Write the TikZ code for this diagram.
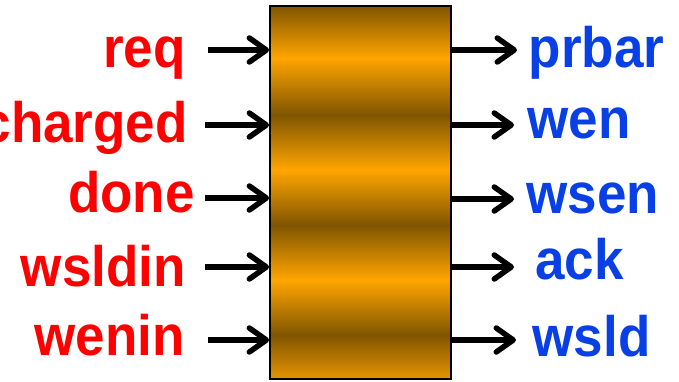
\documentclass[tikz,border=0pt]{standalone}
\usepackage{fontspec}
\setmainfont{Liberation Sans}
\newfontfamily\labelfont[FakeStretch=0.93]{Liberation Sans}
\usetikzlibrary{arrows.meta}

% brass-like banded fill, stops placed on the 25bp..75bp band that TikZ maps onto the box
\definecolor{brassLight}{RGB}{255,165,0}
\definecolor{brassDark}{RGB}{128,85,0}
\colorlet{brassLow}{brassLight!80!brassDark}
\pgfdeclareverticalshading{brass}{100bp}{%
  color(0bp)=(brassLow); color(25bp)=(brassLow);
  color(30.9bp)=(brassDark); color(38.27bp)=(brassLight);
  color(45.64bp)=(brassDark); color(53.02bp)=(brassLight);
  color(60.39bp)=(brassDark); color(68.03bp)=(brassLight);
  color(75bp)=(brassDark); color(100bp)=(brassDark)}

\definecolor{inred}{RGB}{255,0,0}
\definecolor{outblue}{RGB}{8,64,230}

\tikzset{
  block/.style={draw=black, line width=1.8pt, shading=brass, inner sep=0pt,
    minimum width=181pt, minimum height=373pt},
  sigfont/.style={inner sep=0pt,
    font=\labelfont\fontsize{57pt}{57pt}\selectfont\bfseries},
  inlabel/.style={sigfont, anchor=base east, text=inred},
  outlabel/.style={sigfont, anchor=base west, text=outblue},
  sig/.style={line width=5.5pt, -{Straight Barb[length=17pt,width=24pt,round]}}
}

\begin{document}
\begin{tikzpicture}[x=1pt, y=-1pt]
  \useasboundingbox (0,0) rectangle (679,381);

  \node[block] (box) at (360.5,192.5) {};

  % inputs
  \node[inlabel] (req)     at (186,67)  {req};
  \node[inlabel] (charged) at (188,142) {charged};
  \node[inlabel] (done)    at (195,212) {done};
  \node[inlabel] (wsldin)  at (186,286) {wsldin};
  \node[inlabel] (wenin)   at (185,355) {wenin};

  \coordinate (iReq)     at (208,50);
  \coordinate (iCharged) at (205,125);
  \coordinate (iDone)    at (205,198);
  \coordinate (iWsldin)  at (205,267);
  \coordinate (iWenin)   at (208,340);

  \foreach \c in {iReq,iCharged,iDone,iWsldin,iWenin}
    \draw[sig] (\c) -- (\c -| box.west);

  % outputs
  \node[outlabel] (prbar) at (528.5,67) {prbar};
  \node[outlabel] (wen)   at (527.5,138) {wen};
  \node[outlabel] (wsen)  at (526.5,213) {wsen};
  \node[outlabel] (ack)   at (535,279)  {ack};
  \node[outlabel] (wsld)  at (532.5,356) {wsld};

  \coordinate (oPrbar) at (517,50);
  \coordinate (oWen)   at (514,125);
  \coordinate (oWsen)  at (514,199);
  \coordinate (oAck)   at (514,267);
  \coordinate (oWsld)  at (516,340);

  \foreach \c in {oPrbar,oWen,oWsen,oAck,oWsld}
    \draw[sig] (\c -| box.east) -- (\c);
\end{tikzpicture}
\end{document}
